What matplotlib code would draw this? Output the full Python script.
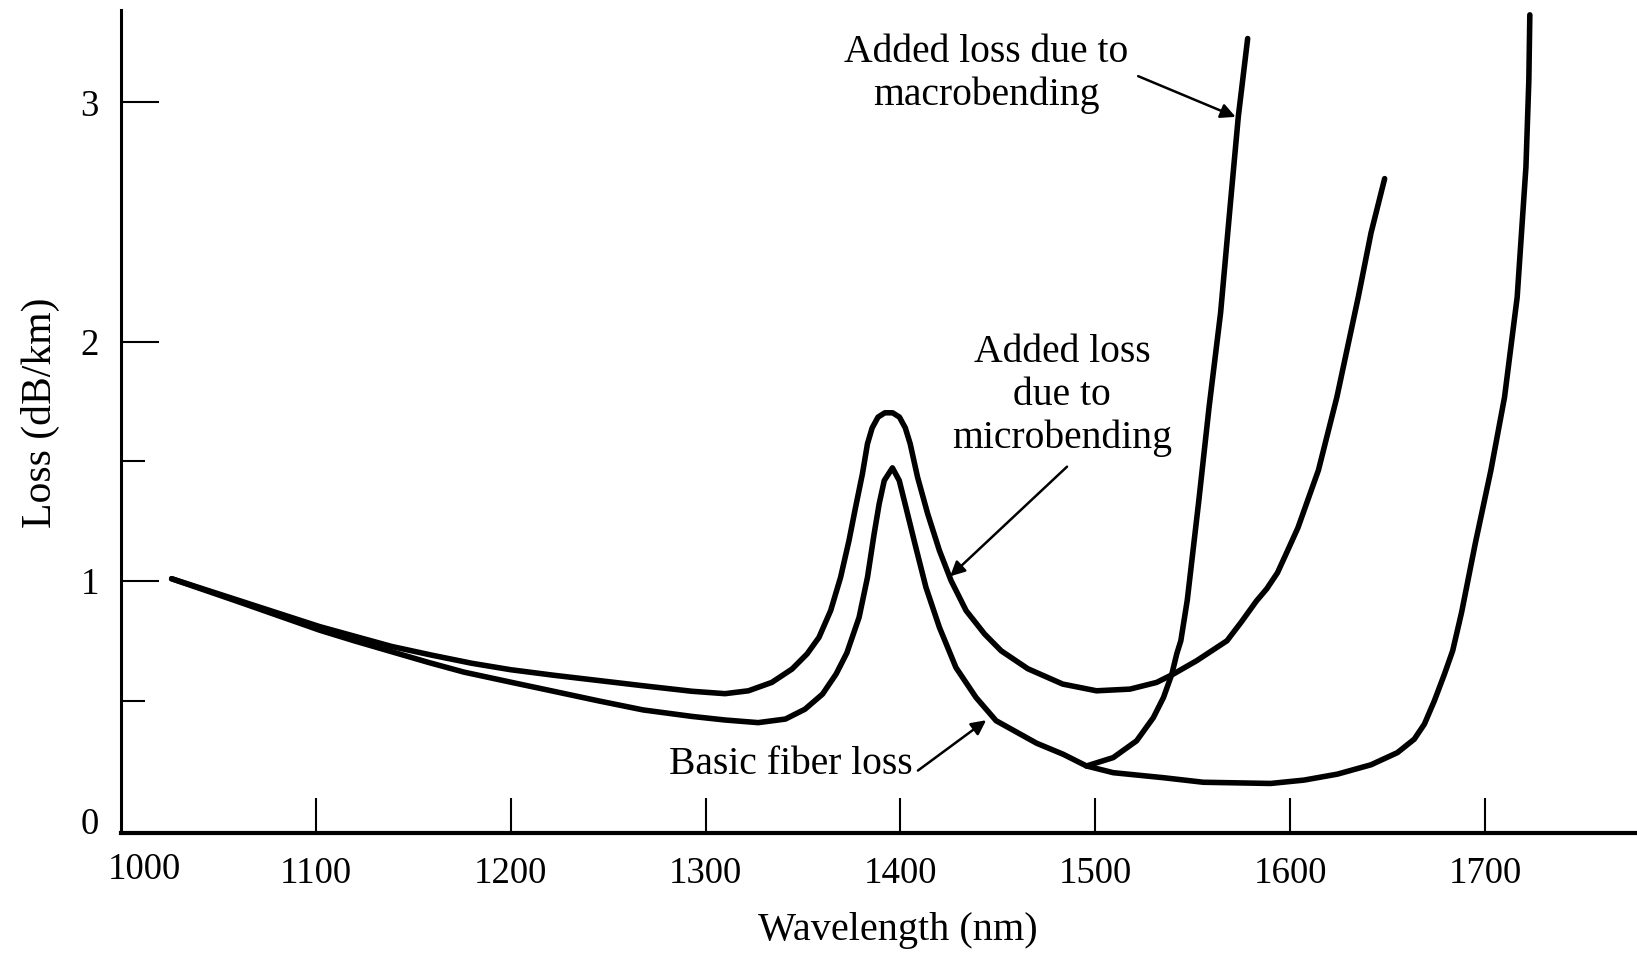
import matplotlib
matplotlib.use("Agg")
from matplotlib import pyplot as plt

plt.rcParams['font.family'] = ['Liberation Serif', 'DejaVu Serif']

# basic fiber loss (nm, dB/km)
basic_x = [1026, 1061, 1102, 1120, 1139, 1158, 1176, 1200, 1222, 1245, 1268, 1293, 1310,
           1327, 1341, 1351, 1360, 1367, 1372.5, 1378.8, 1383.1, 1386.5, 1389.1, 1391.7,
           1395.9, 1399.4, 1402.8, 1407.9, 1413.1, 1420, 1428.5, 1438.8, 1449.1, 1469.9,
           1483.5, 1495.5, 1509.2, 1535, 1555.4, 1590, 1607.1, 1624.3, 1641.5, 1655.1,
           1663.7, 1668.9, 1674, 1679.2, 1683.4, 1688, 1695, 1703, 1710, 1716.5, 1721,
           1722.5, 1723]
basic_y = [1.010, 0.912, 0.795, 0.750, 0.705, 0.660, 0.620, 0.578, 0.540, 0.500, 0.462, 0.435, 0.420,
           0.409, 0.424, 0.465, 0.528, 0.612, 0.700, 0.849, 1.016, 1.197, 1.323, 1.420,
           1.473, 1.420, 1.309, 1.141, 0.974, 0.807, 0.639, 0.514, 0.417, 0.323,
           0.277, 0.228, 0.200, 0.179, 0.160, 0.155, 0.169, 0.194, 0.233, 0.284,
           0.340, 0.403, 0.500, 0.612, 0.709, 0.870, 1.157, 1.462, 1.767, 2.185, 2.729,
           3.093, 3.365]

# added loss due to microbending
micro_x = [1026, 1061, 1102, 1139, 1160, 1180, 1200, 1222, 1245, 1268, 1293, 1310,
           1322, 1334, 1344.4, 1352.1, 1358.2, 1364.2, 1369.3, 1373.6, 1377, 1380.5,
           1383.1, 1385.5, 1388.5, 1392, 1396, 1399.5, 1402.5, 1405, 1408.8, 1414,
           1420, 1426, 1433.7, 1443.2, 1451.7, 1465.4, 1483.3, 1500.6, 1517.8, 1531.5,
           1540.1, 1552.1, 1567.6, 1575, 1582.7, 1588, 1593.5, 1598, 1604, 1614.5, 1624,
           1635, 1641.5, 1648.5]
micro_y = [1.010, 0.918, 0.810, 0.727, 0.690, 0.657, 0.630, 0.607, 0.585, 0.563, 0.540, 0.530,
           0.542, 0.577, 0.633, 0.696, 0.765, 0.877, 1.016, 1.169, 1.309, 1.448,
           1.574, 1.640, 1.685, 1.703, 1.703, 1.685, 1.640, 1.574, 1.434, 1.281,
           1.128, 1.002, 0.877, 0.779, 0.709, 0.634, 0.570, 0.542, 0.549, 0.577,
           0.612, 0.668, 0.751, 0.830, 0.917, 0.968, 1.035, 1.115, 1.223, 1.463, 1.769,
           2.188, 2.454, 2.681]

# added loss due to macrobending
macro_x = [1495.5, 1509.2, 1521.2, 1529.8, 1535, 1539.3, 1541.8, 1543.9, 1547.2, 1553.1,
           1558.4, 1564.3, 1569.1, 1573.4, 1578.2]
macro_y = [0.228, 0.263, 0.333, 0.430, 0.514, 0.612, 0.696, 0.751, 0.920, 1.334,
           1.727, 2.120, 2.556, 2.940, 3.266]

x_ticks = [1100, 1200, 1300, 1400, 1500, 1600, 1700]
y_ticks = [0, 1, 2, 3]

fig = plt.figure(figsize=(16.37, 9.541), dpi=100)
ax = fig.add_axes([0.0739, 0.1268, 0.9261, 0.8623])

for xs, ys in [(basic_x, basic_y), (micro_x, micro_y), (macro_x, macro_y)]:
    ax.plot(xs, ys, color='black', lw=4.0, solid_joinstyle='round', solid_capstyle='round')

ax.set_xlim(1000, 1778)
ax.set_ylim(-0.052, 3.384)

ax.spines['top'].set_visible(False)
ax.spines['right'].set_visible(False)
ax.spines['left'].set_linewidth(2.2)
ax.spines['bottom'].set_linewidth(3.0)

ax.set_xticks(x_ticks)
ax.set_yticks(y_ticks)
ax.set_yticks([0.5, 1.5], minor=True)
ax.tick_params(axis='x', direction='in', length=25, width=1.5, labelsize=26.5, pad=17)
ax.tick_params(axis='y', which='major', direction='in', length=27, width=1.5, labelsize=26.5, pad=16)
ax.tick_params(axis='y', which='minor', direction='in', length=17, width=1.5)
ax.yaxis.get_major_ticks()[0].tick1line.set_visible(False)
# the 1000 label sits a bit right of the axis corner, level with the other tick labels
fig.text(0.0882, 0.088, '1000', fontsize=26.5, ha='center', va='center')

ax.set_xlabel('Wavelength (nm)', fontsize=29, va='center')
ax.set_ylabel('Loss (dB/km)', fontsize=30, va='center')
ax.xaxis.set_label_coords(0.5125, -0.118)
ax.yaxis.set_label_coords(-0.0534, 0.511)

arrow = dict(arrowstyle='-|>', lw=1.8, color='black', mutation_scale=22, shrinkA=0, shrinkB=0)
ax.text(1444, 3.12, 'Added loss due to\nmacrobending', fontsize=28.5, ha='center', va='center',
        linespacing=1.2)
ax.annotate('', xy=(1572, 2.939), xytext=(1522, 3.109), arrowprops=arrow)

ax.text(1483, 1.775, 'Added loss\ndue to\nmicrobending', fontsize=28.5, ha='center', va='center',
        linespacing=1.2)
ax.annotate('', xy=(1425.5, 1.02), xytext=(1485.5, 1.478), arrowprops=arrow)

ax.text(1344, 0.235, 'Basic fiber loss', fontsize=28.5, ha='center', va='center')
ax.annotate('', xy=(1444, 0.419), xytext=(1409, 0.209), arrowprops=arrow)

fig.savefig('out.png', dpi=100)
